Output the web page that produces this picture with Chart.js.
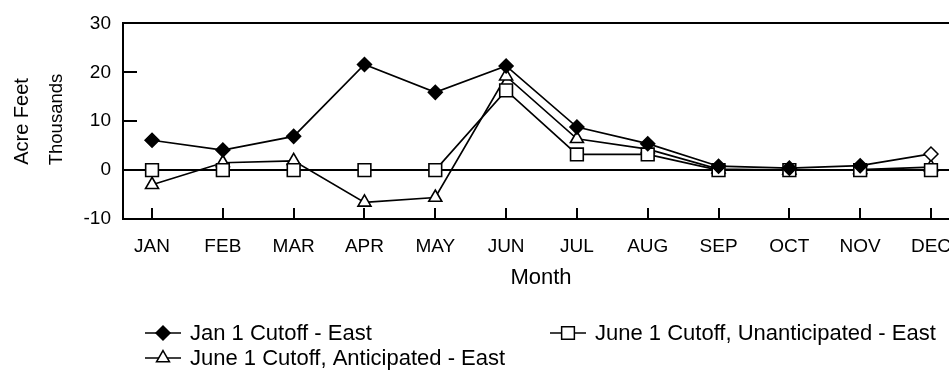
<!DOCTYPE html>
<html>
<head>
<meta charset="utf-8">
<script src="https://cdn.jsdelivr.net/npm/chart.js@4.4.1/dist/chart.umd.min.js"></script>
<style>
  html, body { margin: 0; padding: 0; background: #fff; overflow: hidden; }
  #wrap { width: 949px; height: 377px; overflow: hidden; }
</style>
</head>
<body>
<div id="wrap"><canvas id="chart" width="960" height="377"></canvas></div>
<script>
// Monthly acre-feet (thousands), east side
const MONTHS = ['JAN', 'FEB', 'MAR', 'APR', 'MAY', 'JUN', 'JUL', 'AUG', 'SEP', 'OCT', 'NOV', 'DEC'];
const JAN1_CUTOFF_EAST = [6.1, 4.1, 6.9, 21.6, 15.9, 21.3, 8.8, 5.4, 0.8, 0.4, 0.9, 3.3];
const JUNE1_UNANTICIPATED_EAST = [0, 0, 0, 0, 0, 16.3, 3.2, 3.2, 0, 0, 0, 0];
const JUNE1_ANTICIPATED_EAST = [-3.0, 1.5, 1.9, -6.6, -5.6, 19.2, 6.4, 4.3, 0.2, 0, 0.1, 0.6];
const Y_TICKS = [-10, 0, 10, 20, 30];
const SERIES_NAMES = ['Jan 1 Cutoff - East', 'June 1 Cutoff, Unanticipated - East', 'June 1 Cutoff, Anticipated - East'];
const Y_TITLE = ['Acre Feet', 'Thousands'];
const X_TITLE = 'Month';

const FONT = 'Liberation Sans, Arial, sans-serif';
const INK = '#000';

const toPoints = arr => arr.map((v, i) => ({ x: i, y: v }));

// Diamonds are solid except the last month, which is drawn open.
const janFill = JAN1_CUTOFF_EAST.map((v, i) => (i === JAN1_CUTOFF_EAST.length - 1 ? '#fff' : INK));

const datasets = [
  {
    label: SERIES_NAMES[0],
    data: toPoints(JAN1_CUTOFF_EAST),
    borderColor: INK, borderWidth: 1.7,
    pointStyle: 'rectRot', pointRadius: 7,
    pointBackgroundColor: janFill, pointBorderColor: INK, pointBorderWidth: 1.5
  },
  {
    label: SERIES_NAMES[1],
    data: toPoints(JUNE1_UNANTICIPATED_EAST),
    borderColor: INK, borderWidth: 1.7,
    pointStyle: 'rect', pointRadius: 9,
    pointBackgroundColor: '#fff', pointBorderColor: INK, pointBorderWidth: 1.6
  },
  {
    label: SERIES_NAMES[2],
    data: toPoints(JUNE1_ANTICIPATED_EAST),
    borderColor: INK, borderWidth: 1.7,
    pointStyle: 'triangle', pointRadius: 7.5,
    pointBackgroundColor: '#fff', pointBorderColor: INK, pointBorderWidth: 1.6
  }
];

// Short tick marks that point into the plot area
const innerTicks = {
  id: 'innerTicks',
  beforeDatasetsDraw(chart) {
    const { ctx, chartArea, scales } = chart;
    ctx.save();
    ctx.strokeStyle = INK;
    ctx.lineWidth = 2;
    ctx.beginPath();
    Y_TICKS.forEach(v => {
      const y = Math.round(scales.y.getPixelForValue(v));
      ctx.moveTo(chartArea.left, y);
      ctx.lineTo(chartArea.left + 14, y);
    });
    MONTHS.forEach((m, i) => {
      const x = Math.round(scales.x.getPixelForValue(i));
      ctx.moveTo(x, chartArea.bottom);
      ctx.lineTo(x, chartArea.bottom - 11);
    });
    ctx.stroke();
    ctx.restore();
  }
};

// Axis titles
const axisTitles = {
  id: 'axisTitles',
  afterDraw(chart) {
    const { ctx } = chart;
    ctx.save();
    ctx.fillStyle = INK;
    ctx.textAlign = 'center';
    ctx.textBaseline = 'middle';
    [[22, 121.5, 20, Y_TITLE[0]], [56.5, 119.5, 18.5, Y_TITLE[1]]].forEach(([x, y, size, t]) => {
      ctx.save();
      ctx.font = size + 'px ' + FONT;
      ctx.translate(x, y);
      ctx.rotate(-Math.PI / 2);
      ctx.fillText(t, 0, 0);
      ctx.restore();
    });
    ctx.font = '22px ' + FONT;
    ctx.fillText(X_TITLE, 541, 278);
    ctx.restore();
  }
};

// Legend laid out in two columns
const sideLegend = {
  id: 'sideLegend',
  afterDraw(chart) {
    const { ctx } = chart;
    const slots = [
      { x: 145, y: 333 },
      { x: 550, y: 333 },
      { x: 145, y: 358 }
    ];
    ctx.save();
    chart.data.datasets.forEach((ds, i) => {
      const s = slots[i];
      ctx.strokeStyle = INK;
      ctx.lineWidth = 1.7;
      ctx.beginPath();
      ctx.moveTo(s.x, s.y);
      ctx.lineTo(s.x + 36, s.y);
      ctx.stroke();
      ctx.fillStyle = i === 0 ? INK : '#fff';
      ctx.strokeStyle = INK;
      ctx.lineWidth = 1.5;
      Chart.helpers.drawPoint(ctx, {
        pointStyle: ds.pointStyle,
        radius: ds.pointRadius,
        rotation: 0,
        borderWidth: 1.5
      }, s.x + 18, s.y);
      ctx.fillStyle = INK;
      ctx.font = '22px ' + FONT;
      ctx.textAlign = 'left';
      ctx.textBaseline = 'middle';
      ctx.fillText(ds.label, s.x + 45, s.y + 1);
    });
    ctx.restore();
  }
};

new Chart(document.getElementById('chart'), {
  type: 'line',
  data: { datasets },
  plugins: [innerTicks, axisTitles, sideLegend],
  options: {
    responsive: false,
    animation: false,
    events: [],
    layout: { padding: { top: 17, left: 0, right: 0, bottom: 0 } },
    plugins: { legend: { display: false }, tooltip: { enabled: false } },
    elements: { line: { tension: 0 } },
    scales: {
      x: {
        type: 'linear',
        min: -0.41,
        max: 11.26,
        afterBuildTicks(scale) {
          scale.ticks = MONTHS.map((m, i) => ({ value: i }));
        },
        afterFit(scale) {
          scale.height = 158;
          scale.paddingLeft = 0;
          scale.paddingRight = 0;
        },
        ticks: {
          autoSkip: false,
          maxRotation: 0,
          padding: 16,
          color: INK,
          font: { family: FONT, size: 19 },
          callback: v => MONTHS[v]
        },
        grid: { display: false, drawTicks: false },
        border: { display: true, color: INK, width: 2 }
      },
      y: {
        min: -10,
        max: 30,
        afterBuildTicks(scale) {
          scale.ticks = Y_TICKS.map(v => ({ value: v }));
        },
        afterFit(scale) {
          scale.width = 123;
        },
        ticks: {
          padding: 12,
          color: INK,
          font: { family: FONT, size: 19 }
        },
        grid: {
          drawTicks: false,
          lineWidth: 2,
          color: c => (c.tick && (c.tick.value === 0 || c.tick.value === 30) ? INK : 'rgba(0,0,0,0)')
        },
        border: { display: true, color: INK, width: 2 }
      }
    }
  }
});
</script>
</body>
</html>
